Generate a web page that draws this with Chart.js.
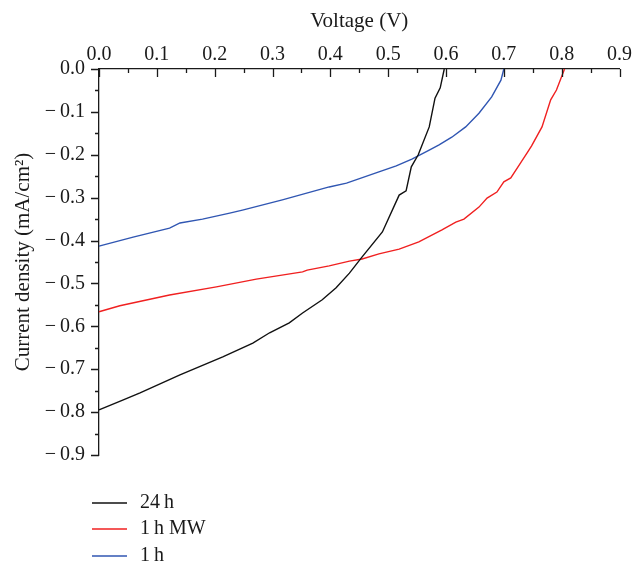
<!DOCTYPE html>
<html>
<head>
<meta charset="utf-8">
<script src="https://cdn.jsdelivr.net/npm/chart.js@4/dist/chart.umd.min.js"></script>
<style>
  html, body { margin: 0; padding: 0; background: #fff; }
  canvas { display: block; }
</style>
</head>
<body>
<canvas id="c" width="634" height="562"></canvas>
<script>
// ---- Data ----
const seriesLabels = ['24\u2009h', '1\u2009h MW', '1\u2009h'];
const seriesColors = ['#111111', 'rgb(240,32,32)', 'rgb(48,86,178)'];

const voltage24h = [0, 0.041, 0.071, 0.140, 0.214, 0.266, 0.295, 0.329, 0.352, 0.386, 0.410, 0.433, 0.455, 0.490, 0.519, 0.531, 0.540, 0.552, 0.571, 0.581, 0.590, 0.597];
const current24h = [-0.795, -0.772, -0.755, -0.713, -0.671, -0.639, -0.615, -0.592, -0.569, -0.538, -0.510, -0.476, -0.438, -0.380, -0.294, -0.284, -0.228, -0.200, -0.135, -0.068, -0.044, 0];

const voltage1hMW = [0, 0.036, 0.122, 0.203, 0.272, 0.352, 0.360, 0.398, 0.433, 0.455, 0.484, 0.519, 0.553, 0.593, 0.617, 0.631, 0.657, 0.671, 0.688, 0.700, 0.712, 0.729, 0.740, 0.748, 0.766, 0.781, 0.791, 0.805];
const current1hMW = [-0.566, -0.552, -0.527, -0.508, -0.490, -0.473, -0.469, -0.459, -0.448, -0.443, -0.431, -0.420, -0.403, -0.375, -0.357, -0.350, -0.322, -0.301, -0.287, -0.263, -0.254, -0.219, -0.196, -0.179, -0.135, -0.072, -0.049, 0];

const voltage1h = [0, 0.059, 0.122, 0.140, 0.179, 0.226, 0.248, 0.317, 0.398, 0.428, 0.484, 0.514, 0.541, 0.571, 0.588, 0.610, 0.634, 0.657, 0.679, 0.695, 0.700];
const current1h = [-0.413, -0.392, -0.371, -0.359, -0.350, -0.336, -0.329, -0.305, -0.275, -0.266, -0.240, -0.226, -0.210, -0.189, -0.177, -0.159, -0.135, -0.103, -0.065, -0.026, 0];

const xTickValues = [0, 0.1, 0.2, 0.3, 0.4, 0.5, 0.6, 0.7, 0.8, 0.9];
const yTickValues = [0, -0.1, -0.2, -0.3, -0.4, -0.5, -0.6, -0.7, -0.8, -0.9];

const xTitle = 'Voltage (V)';
const yTitle = 'Current density (mA/cm\u00B2)';

// ---- Build ----
const FONT = 'Liberation Serif, Times New Roman, serif';
const toPoints = (xs, ys) => xs.map((v, i) => ({ x: v, y: ys[i] }));
const allX = [voltage24h, voltage1hMW, voltage1h];
const allY = [current24h, current1hMW, current1h];

const datasets = seriesLabels.map((lab, i) => ({
  label: lab,
  data: toPoints(allX[i], allY[i]),
  borderColor: seriesColors[i],
  backgroundColor: seriesColors[i],
  borderWidth: 1.4,
  pointRadius: 0,
  showLine: true,
  tension: 0,
  clip: false
}));

const fmt = v => {
  const r = Math.round(v * 10) / 10;
  const s = Math.abs(r).toFixed(1);
  return r < 0 ? '\u2212\u2009' + s : s;
};

const ticksPlugin = {
  id: 'customTicks',
  afterDraw(chart) {
    const { ctx } = chart;
    const xs = chart.scales.x, ys = chart.scales.y;
    const top = xs.bottom, left = ys.right;
    ctx.save();
    ctx.strokeStyle = '#1a1a1a';
    ctx.lineWidth = 1.3;
    ctx.beginPath();
    xTickValues.forEach((v, i) => {
      const px = Math.round(xs.getPixelForValue(v)) + 0.5;
      ctx.moveTo(px, top); ctx.lineTo(px, top + 8);
      if (i < xTickValues.length - 1) {
        const mv = (v + xTickValues[i + 1]) / 2;
        const mp = Math.round(xs.getPixelForValue(mv)) + 0.5;
        ctx.moveTo(mp, top); ctx.lineTo(mp, top + 4);
      }
    });
    yTickValues.forEach((v, i) => {
      const py = Math.round(ys.getPixelForValue(v)) + 0.5;
      ctx.moveTo(left, py); ctx.lineTo(left - 8, py);
      if (i < yTickValues.length - 1) {
        const mv = (v + yTickValues[i + 1]) / 2;
        const mp = Math.round(ys.getPixelForValue(mv)) + 0.5;
        ctx.moveTo(left, mp); ctx.lineTo(left - 4, mp);
      }
    });
    ctx.stroke();

    const rows = [503, 529, 556];
    ctx.font = '20px ' + FONT;
    ctx.textBaseline = 'middle';
    ctx.textAlign = 'left';
    chart.data.datasets.forEach((ds, i) => {
      ctx.strokeStyle = ds.borderColor;
      ctx.lineWidth = 1.6;
      ctx.beginPath();
      ctx.moveTo(92, rows[i]); ctx.lineTo(127, rows[i]);
      ctx.stroke();
      ctx.fillStyle = '#1a1a1a';
      ctx.fillText(ds.label, 140, rows[i]);
    });
    ctx.restore();
  }
};

new Chart(document.getElementById('c'), {
  type: 'scatter',
  data: { datasets },
  options: {
    responsive: false,
    animation: false,
    layout: { padding: { top: 0, left: 0, right: 13, bottom: 107 } },
    plugins: { legend: { display: false }, tooltip: { enabled: false } },
    scales: {
      x: {
        type: 'linear',
        position: 'top',
        min: 0, max: 0.9,
        afterBuildTicks: s => { s.ticks = xTickValues.map(v => ({ value: v })); },
        afterFit: s => { s.height = 69; },
        grid: { drawOnChartArea: false, drawTicks: false },
        border: { display: true, color: '#1a1a1a', width: 1.3 },
        ticks: {
          color: '#1a1a1a', padding: 2, maxRotation: 0, autoSkip: false,
          font: { family: FONT, size: 20 },
          callback: v => fmt(v)
        },
        title: {
          display: true, text: xTitle, color: '#1a1a1a',
          font: { family: FONT, size: 21, lineHeight: 1.2 },
          padding: { top: 9, bottom: 0 }
        }
      },
      y: {
        type: 'linear',
        position: 'left',
        min: -0.9, max: 0,
        afterBuildTicks: s => { s.ticks = yTickValues.map(v => ({ value: v })); },
        afterFit: s => { s.width = 99; },
        grid: { drawOnChartArea: false, drawTicks: false },
        border: { display: true, color: '#1a1a1a', width: 1.3 },
        ticks: {
          color: '#1a1a1a', padding: 14, autoSkip: false,
          font: { family: FONT, size: 20 },
          callback: v => fmt(v)
        },
        title: {
          display: true, text: yTitle, color: '#1a1a1a',
          font: { family: FONT, size: 21, lineHeight: 1.2 },
          padding: { top: 11, bottom: 0 }
        }
      }
    }
  },
  plugins: [ticksPlugin]
});
</script>
</body>
</html>
